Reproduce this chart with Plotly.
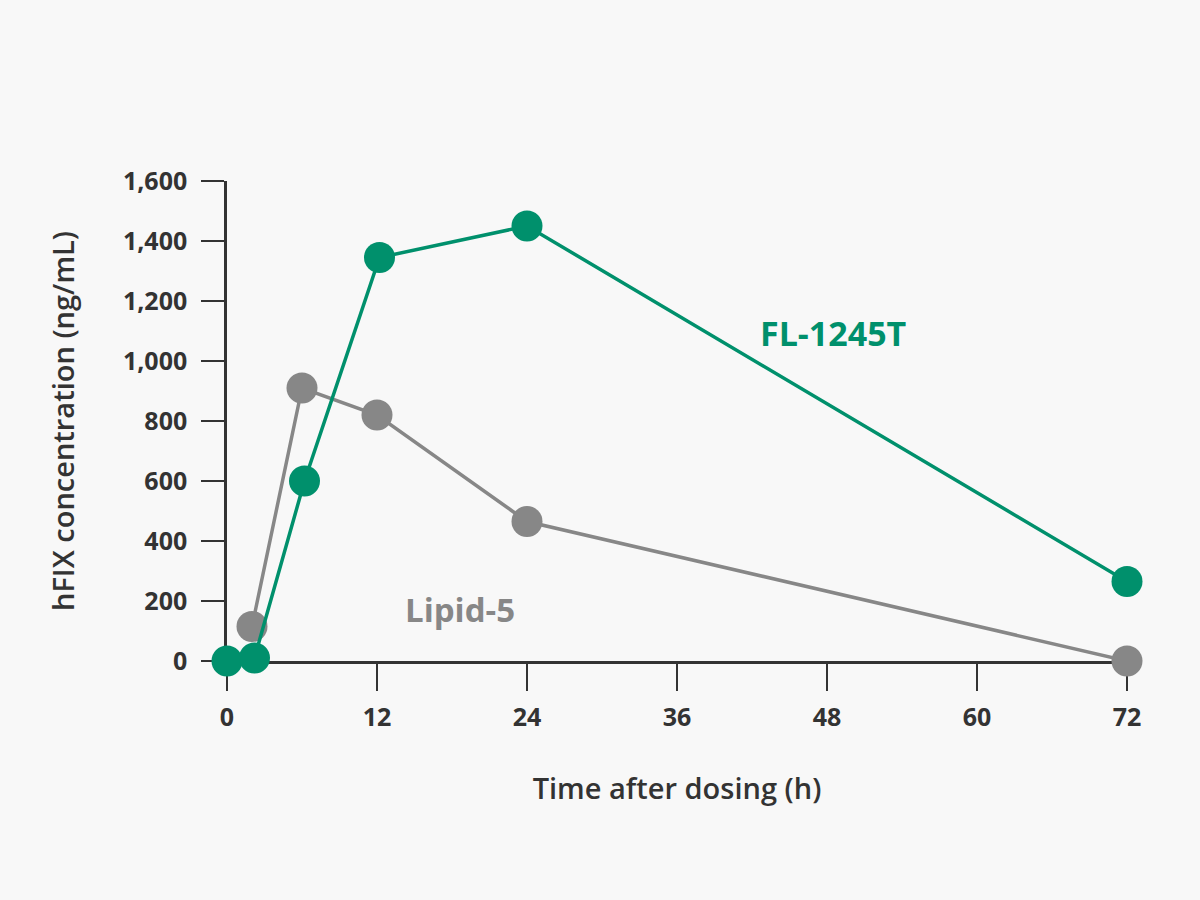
import plotly.graph_objects as go

# time points (h) and hFIX concentration (ng/mL)
fl_time = [0, 2.2, 6.2, 12.2, 24, 72]
fl_conc = [0, 10, 600, 1345, 1450, 265]

lipid_time = [2, 6, 12, 24, 72]
lipid_conc = [115, 910, 820, 465, 0]

x_ticks = [0, 12, 24, 36, 48, 60, 72]
y_ticks = [0, 200, 400, 600, 800, 1000, 1200, 1400, 1600]

green = "#00906c"
grey = "#878787"
ink = "#333333"
bg = "#f8f8f8"
font_family = "Open Sans"

fig = go.Figure()

fig.add_trace(go.Scatter(
    x=lipid_time, y=lipid_conc, mode="lines+markers", name="Lipid-5",
    line=dict(color=grey, width=3.5),
    marker=dict(color=grey, size=31),
    cliponaxis=False,
))
fig.add_trace(go.Scatter(
    x=fl_time, y=fl_conc, mode="lines+markers", name="FL-1245T",
    line=dict(color=green, width=3.5),
    marker=dict(color=green, size=31),
    cliponaxis=False,
))

# series labels placed next to the lines
fig.add_annotation(x=48.5, y=1095, text="FL-1245T", showarrow=False,
                   font=dict(family=font_family, size=34, color=green, weight=700))
fig.add_annotation(x=18.6, y=172, text="Lipid-5", showarrow=False,
                   font=dict(family=font_family, size=33, color=grey, weight=700))

fig.update_layout(
    width=1200, height=900,
    margin=dict(l=227, r=73, t=181, b=239),
    paper_bgcolor=bg, plot_bgcolor=bg,
    showlegend=False,
    font=dict(family=font_family, color=ink),
)

fig.update_xaxes(
    range=[0, 72], tickvals=x_ticks,
    showgrid=False, zeroline=False,
    showline=True, linecolor=ink, linewidth=2.5,
    ticks="outside", ticklen=27, tickwidth=2, tickcolor=ink,
    ticklabelstandoff=5,
    tickfont=dict(family=font_family, size=25, color=ink, weight=700),
    title=dict(text="Time after dosing (h)", standoff=47,
               font=dict(family=font_family, size=29, color=ink, weight=600)),
    layer="below traces",
)
fig.update_yaxes(
    range=[0, 1600], tickvals=y_ticks, tickformat=",d",
    showgrid=False, zeroline=False,
    showline=True, linecolor=ink, linewidth=2.5,
    ticks="outside", ticklen=23, tickwidth=2, tickcolor=ink,
    ticklabelstandoff=9,
    tickfont=dict(family=font_family, size=25, color=ink, weight=700),
    title=dict(text="hFIX concentration (ng/mL)", standoff=40,
               font=dict(family=font_family, size=29, color=ink, weight=600)),
    layer="below traces",
)

fig.write_html(
    "out.html",
    config={"displayModeBar": False},
    post_script="document.body.style.margin='0';document.body.style.background='%s';" % bg,
)
